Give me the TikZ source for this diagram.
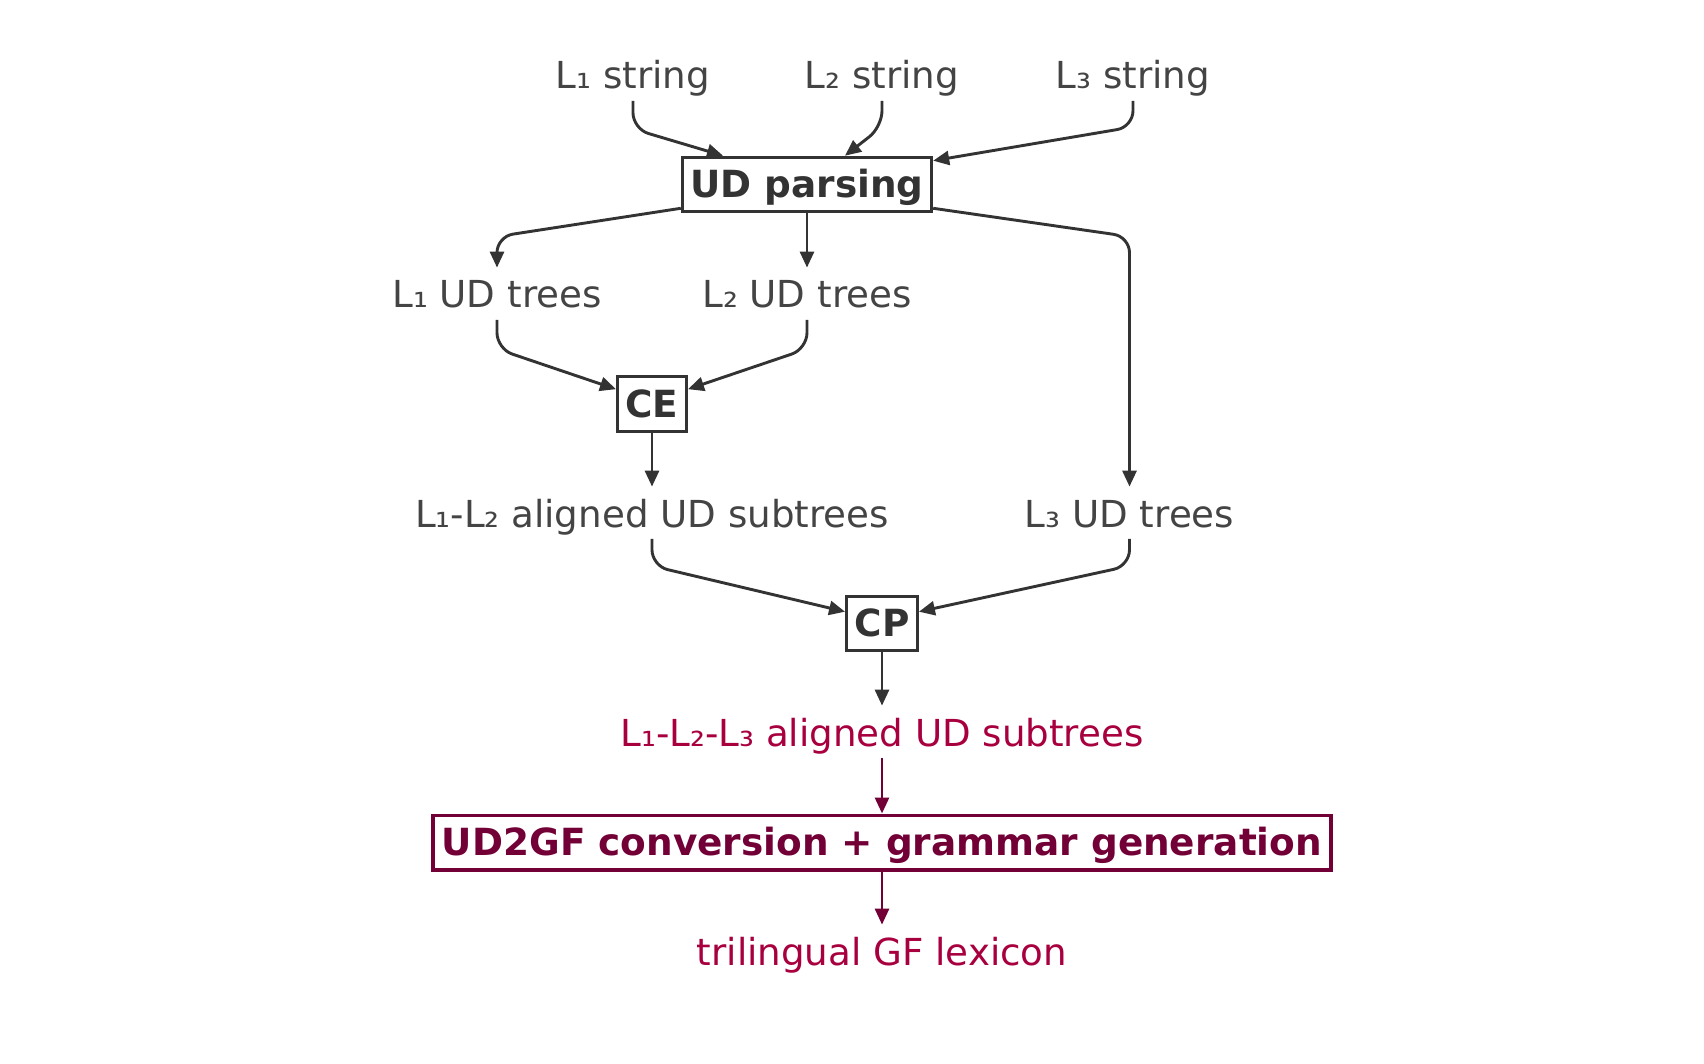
\documentclass[tikz,border=0pt]{standalone}
\usepackage{fontspec}
\setmainfont{DejaVu Sans}
\usetikzlibrary{arrows.meta,calc}
\definecolor{gtext}{HTML}{444444}
\definecolor{gline}{HTML}{333333}
\definecolor{rtext}{HTML}{A8003F}
\definecolor{rdark}{HTML}{720036}
\tikzset{
  lbl/.style={anchor=base,inner sep=0pt,text height=20pt,text depth=5.75pt,text=gtext,font=\fontsize{18.6pt}{22pt}\selectfont},
  rlbl/.style={lbl,text=rtext},
  procbox/.style={draw=gline,line width=1.5pt,inner xsep=4pt,inner ysep=3.75pt,text height=16.4pt,text depth=3.4pt,text=gline,font=\fontsize{18.7pt}{22pt}\selectfont\bfseries},
  rprocbox/.style={procbox,draw=rdark,text=rdark,line width=1.7pt,inner xsep=4.5pt},
  conn/.style={draw=gline,line width=1.45pt,rounded corners=8pt,-{Triangle[length=8pt,width=7pt]}},
  rconn/.style={conn,draw=rdark},
}
\begin{document}
\begin{tikzpicture}[x=0.5pt,y=-0.5pt]
\useasboundingbox (0,0) rectangle (1704,1064);
% text nodes (baselines)
\node[lbl] (s1) at (633,89) {L₁ string};
\node[lbl] (s2) at (882,89) {L₂ string};
\node[lbl] (s3) at (1133,89) {L₃ string};
\node[procbox] (ud) at (807,184.5) {UD parsing};
\node[lbl] (t1) at (497,308) {L₁ UD trees};
\node[lbl] (t2) at (807,308) {L₂ UD trees};
\node[procbox] (ce) at (652,404) {CE};
\node[lbl] (a12) at (652,527) {L₁-L₂ aligned UD subtrees};
\node[lbl] (t3) at (1129.5,527) {L₃ UD trees};
\node[procbox] (cp) at (882,623.5) {CP};
\node[rlbl] (a123) at (882,746) {L₁-L₂-L₃ aligned UD subtrees};
\node[rprocbox] (gen) at (882,842.5) {UD2GF conversion + grammar generation};
\node[rlbl] (tri) at (882,965) {trilingual GF lexicon};
% connectors
\draw[conn] (s1.south) -- ++(0,28) -- ([xshift=-42pt]ud.north);
\draw[conn] (s2.south) -- ++(0,26) -- ([xshift=19pt]ud.north);
\draw[conn] (s3.south) -- ++(0,26) -- ([yshift=-2.5pt]ud.north east);
\path ([yshift=15.5pt]t1.north) coordinate (k1);
\draw[conn] ([yshift=2.5pt]ud.south west) -- (k1) -- (t1.north);
\draw[conn] (ud.south) -- (t2.north);
\draw[conn] ([yshift=2.5pt]ud.south east) -- (k1 -| t3.north) -- (t3.north);
\draw[conn] (t1.south) -- ++(0,29) -- ([yshift=-7pt]ce.north west);
\draw[conn] (t2.south) -- ++(0,29) -- ([yshift=-7pt]ce.north east);
\draw[conn] (ce.south) -- (a12.north);
\draw[conn] (a12.south) -- ++(0,27) -- ([yshift=-8.5pt]cp.north west);
\draw[conn] (t3.south) -- ++(0,27) -- ([yshift=-8.5pt]cp.north east);
\draw[conn] (cp.south) -- (a123.north);
\draw[rconn] (a123.south) -- (gen.north);
\draw[rconn] (gen.south) -- (tri.north);
\end{tikzpicture}
\end{document}
